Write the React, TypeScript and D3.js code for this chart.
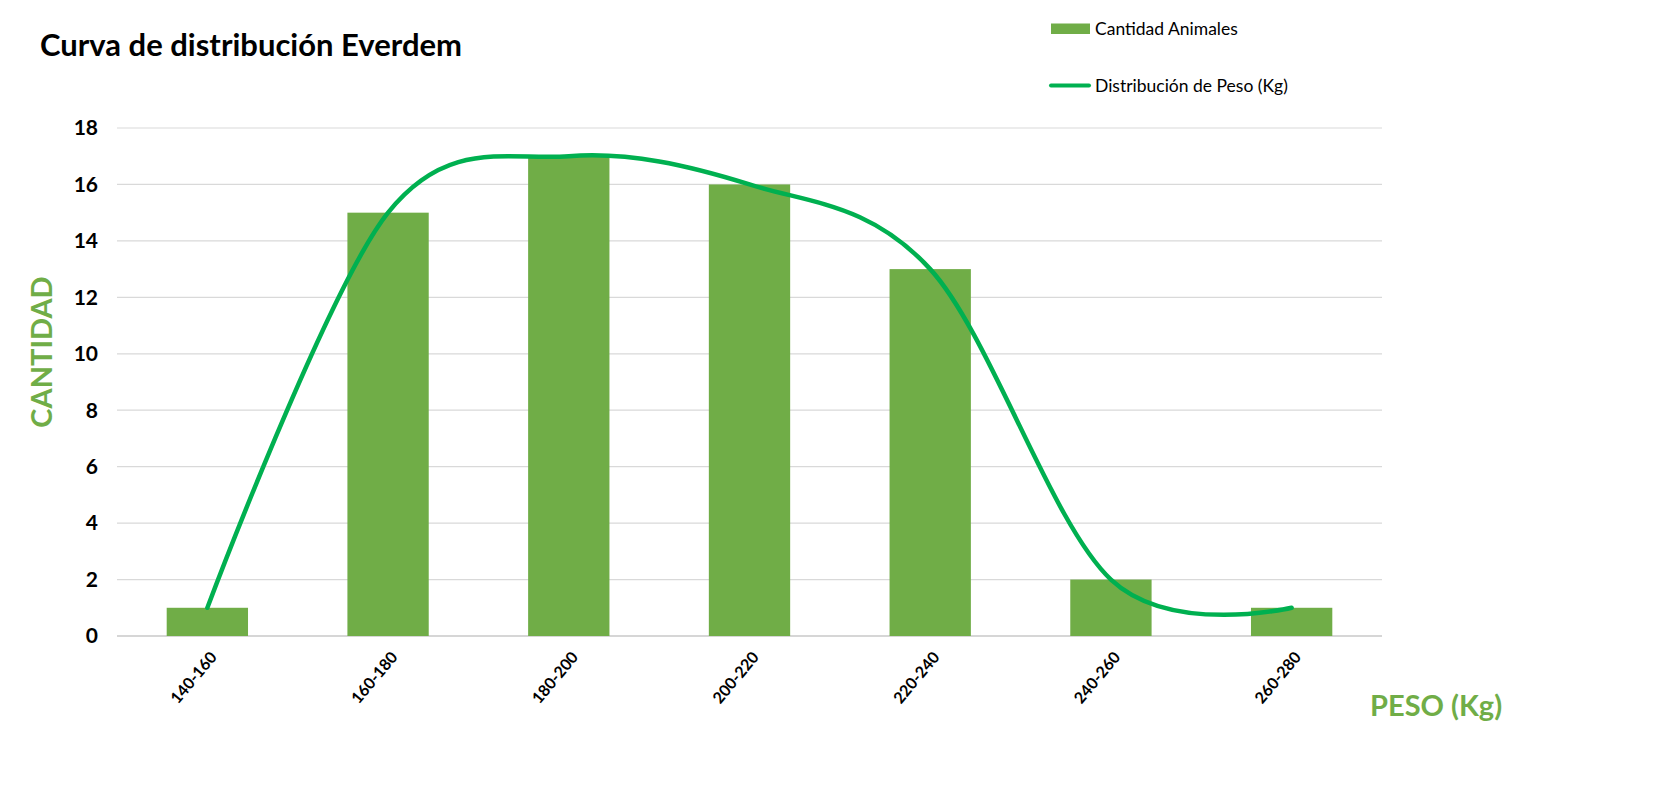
import React from "react";
import * as d3 from "d3";

const categories = ["140-160", "160-180", "180-200", "200-220", "220-240", "240-260", "260-280"];
const cantidadAnimales = [1, 15, 17, 16, 13, 2, 1];
const distribucionPeso = [1, 15, 17, 16, 13, 2, 1];
const yTicks = [0, 2, 4, 6, 8, 10, 12, 14, 16, 18];

const W = 1671;
const H = 785;
const plot = { left: 117, right: 1382, top: 128, bottom: 636 };
const FONT = "Lato, 'Open Sans', sans-serif";
const BAR = "#70AD47";
const LINE = "#00B050";

export default function App() {
  const x = d3.scaleBand<string>().domain(categories).range([plot.left, plot.right]).paddingInner(0.55).paddingOuter(0.275);
  const xc = d3.scaleBand<string>().domain(categories).range([plot.left, plot.right]);
  const y = d3.scaleLinear().domain([0, 18]).range([plot.bottom, plot.top]);
  const line = d3
    .line<number>()
    .x((_, i) => (xc(categories[i]) as number) + xc.bandwidth() / 2)
    .y((d) => y(d))
    .curve(d3.curveCardinal.tension(0));

  return (
    <div style={{ position: "fixed", left: 0, top: 0 }}>
      <svg width={W} height={H} style={{ display: "block", background: "#fff" }}>
        <text x={40} y={56} fontFamily={FONT} fontWeight={700} fontSize={31} fill="#000">
          Curva de distribución Everdem
        </text>
        {yTicks.map((t) => (
          <g key={t}>
            <line x1={plot.left} x2={plot.right} y1={y(t)} y2={y(t)} stroke={t === 0 ? "#C8C8C8" : "#D9D9D9"} strokeWidth={t === 0 ? 1.5 : 1.2} />
            <text x={98} y={y(t)} dy="0.35em" textAnchor="end" fontFamily={FONT} fontWeight={700} fontSize={21} fill="#000">
              {t}
            </text>
          </g>
        ))}
        {categories.map((c, i) => (
          <rect key={c} x={x(c)} y={y(cantidadAnimales[i])} width={x.bandwidth()} height={y(0) - y(cantidadAnimales[i])} fill={BAR} />
        ))}
        <path d={line(distribucionPeso) || ""} fill="none" stroke={LINE} strokeWidth={4.5} strokeLinecap="round" />
        {categories.map((c) => {
          const cx = (xc(c) as number) + xc.bandwidth() / 2;
          return (
            <text
              key={c}
              transform={`translate(${cx + 6},${plot.bottom + 18}) rotate(-50)`}
              textAnchor="end"
              dy="0.35em"
              fontFamily={FONT}
              fontWeight={700}
              fontSize={16}
              fill="#000"
            >
              {c}
            </text>
          );
        })}
        <text transform={`translate(52,352) rotate(-90)`} textAnchor="middle" fontFamily={FONT} fontWeight={700} fontSize={29} fill={BAR}>
          CANTIDAD
        </text>
        <text x={1370} y={716} fontFamily={FONT} fontWeight={700} fontSize={29} fill={BAR}>
          PESO (Kg)
        </text>
        <rect x={1051} y={23.5} width={39} height={10.5} fill={BAR} />
        <text x={1095} y={29} dy="0.35em" fontFamily={FONT} fontSize={17.5} fill="#000">
          Cantidad Animales
        </text>
        <line x1={1051} x2={1089} y1={85.5} y2={85.5} stroke={LINE} strokeWidth={4} strokeLinecap="round" />
        <text x={1095} y={85.5} dy="0.35em" fontFamily={FONT} fontSize={17.5} fill="#000">
          Distribución de Peso (Kg)
        </text>
      </svg>
    </div>
  );
}
